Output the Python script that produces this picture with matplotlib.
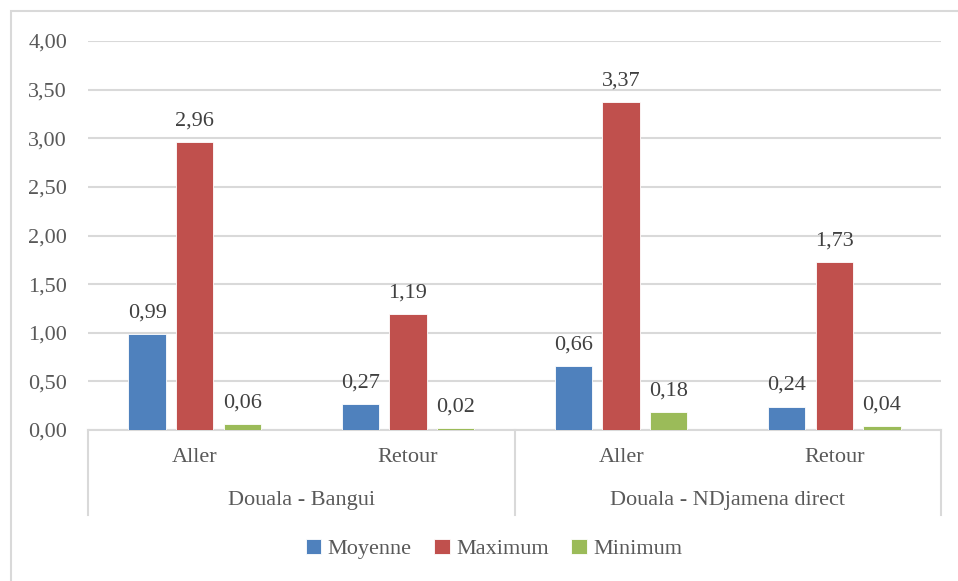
import numpy as np
import matplotlib.pyplot as plt
from matplotlib.patches import Rectangle

plt.rcParams['font.family'] = ['Liberation Serif', 'DejaVu Serif']

# Data
trajets = ["Douala - Bangui", "Douala - NDjamena direct"]
sens = ["Aller", "Retour", "Aller", "Retour"]
series = ["Moyenne", "Maximum", "Minimum"]
moyenne = [0.99, 0.27, 0.66, 0.24]
maximum = [2.96, 1.19, 3.37, 1.73]
minimum = [0.06, 0.02, 0.18, 0.04]
colors = ["#4F81BD", "#C0504D", "#9BBB59"]
text_color = "#595959"
grid_color = "#D9D9D9"
fs = 16

W, H = 958, 581
fig = plt.figure(figsize=(W / 100, H / 100), dpi=100)

# chart border (runs off the right and bottom edges)
fig.patches.append(Rectangle((11 / W, -0.1), 1.2, (H - 11) / H + 0.1,
                             transform=fig.transFigure, fill=False,
                             edgecolor="#D9D9D9", lw=1.5))

x0, x1, y0, y1 = 88, 941, 430, 41
ax = fig.add_axes([x0 / W, (H - y0) / H, (x1 - x0) / W, (y0 - y1) / H])

x = np.arange(len(sens))
width = 0.175
offset = 0.223
for i, (name, vals) in enumerate(zip(series, [moyenne, maximum, minimum])):
    pos = x + (i - 1) * offset
    bars = ax.bar(pos, vals, width, color=colors[i], label=name,
                  edgecolor="white", linewidth=0.6, zorder=3)
    for b, v in zip(bars, vals):
        ax.text(b.get_x() + b.get_width() / 2, v + 0.12,
                f"{v:.2f}".replace(".", ","), ha="center", va="bottom",
                fontsize=fs, color="#404040")

ax.set_xlim(-0.5, 3.5)
ax.set_ylim(0, 4)
ax.set_yticks(np.arange(0, 4.01, 0.5))
ax.set_yticklabels([f"{t:.2f}".replace(".", ",") for t in np.arange(0, 4.01, 0.5)])
ax.tick_params(axis="y", length=0, pad=15, labelsize=fs, labelcolor=text_color)
ax.set_xticks([])
ax.grid(axis="y", color=grid_color, lw=1.5, zorder=0)
for s in ["top", "right", "left"]:
    ax.spines[s].set_visible(False)
ax.spines["bottom"].set_color(grid_color)
ax.spines["bottom"].set_linewidth(1.5)

# two-level category axis
trans = ax.get_xaxis_transform()
depth = -(515 - y0) / (y0 - y1)
for xs in [-0.5, 1.5, 3.5]:
    ax.plot([xs, xs], [0, depth], transform=trans, color=grid_color,
            lw=1.5, clip_on=False)
for xi, lab in zip(x, sens):
    ax.text(xi, -28 / (y0 - y1), lab, transform=trans, ha="center",
            va="center", fontsize=fs, color=text_color)
for gi, lab in enumerate(trajets):
    ax.text(gi * 2 + 0.5, -70 / (y0 - y1), lab, transform=trans,
            ha="center", va="center", fontsize=fs, color=text_color)

leg = fig.legend(loc="center", bbox_to_anchor=(0.5 + 15 / W, (H - 549) / H), ncol=3,
                 frameon=False, fontsize=fs, handlelength=0.7,
                 handleheight=0.7, handletextpad=0.3, columnspacing=1.0)
for t in leg.get_texts():
    t.set_color(text_color)

fig.savefig("out.png", dpi=100)
